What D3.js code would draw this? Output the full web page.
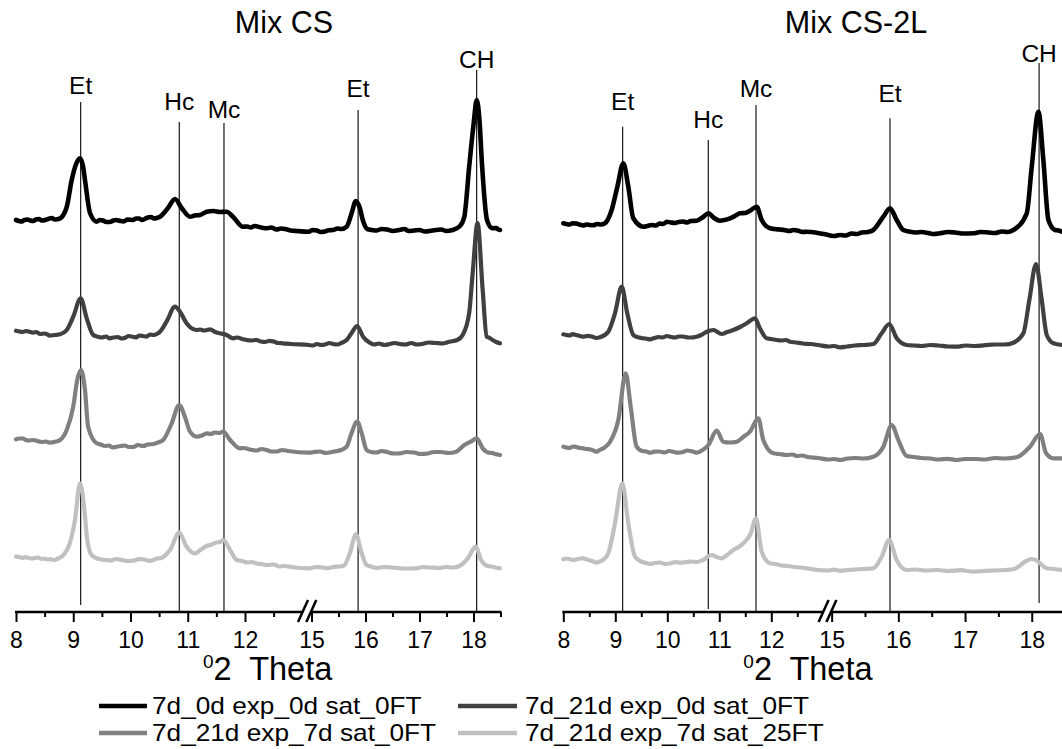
<!DOCTYPE html>
<html>
<head>
<meta charset="utf-8">
<script src="https://cdn.jsdelivr.net/npm/d3@7"></script>
<style>
  html, body { margin: 0; padding: 0; background: #fff; }
  svg { display: block; font-family: "Liberation Sans", Arial, sans-serif; }
  text { white-space: pre; }
</style>
</head>
<body>
<svg id="chart" width="1062" height="749"></svg>
<script>
// ---------------- DATA ----------------
const panelTitles = ["Mix CS", "Mix CS-2L"];
const seriesNames = ["7d_0d exp_0d sat_0FT", "7d_21d exp_0d sat_0FT", "7d_21d exp_7d sat_0FT", "7d_21d exp_7d sat_25FT"];
const majorTicks = [8, 9, 10, 11, 12, 15, 16, 17, 18];
const minorTicks = [8.5, 9.5, 10.5, 11.5, 12.5, 15.5, 16.5, 17.5, 18.5];
const axisTitle = ["0", "2  Theta"];

// Mix CS: [2theta, intensity a.u. incl. stacking offset]
const cs_0d_0sat_0FT = [[8.00,392],[8.05,391],[8.10,390.5],[8.15,392],[8.20,392.5],[8.25,391.5],[8.30,391],[8.35,392.5],[8.40,393],[8.45,391.5],[8.51,392],[8.56,393],[8.62,394],[8.68,392.5],[8.77,393.7],[8.886,405],[8.973,432],[9.05,448],[9.118,453.7],[9.17,446],[9.205,432],[9.293,399],[9.41,390.3],[9.46,392],[9.52,391.5],[9.58,390],[9.64,390],[9.70,391.5],[9.75,392],[9.82,391],[9.88,390.5],[9.95,392.5],[10.04,392],[10.10,393.5],[10.15,393.5],[10.20,392],[10.25,393],[10.30,394.5],[10.36,395],[10.41,393.5],[10.46,394],[10.515,395.3],[10.655,404],[10.777,413],[10.894,404],[11.04,395.3],[11.12,396.5],[11.214,397],[11.33,400.3],[11.45,401],[11.56,400],[11.68,400.3],[11.79,395.3],[11.965,385.3],[12.04,385.5],[12.10,384.5],[12.17,386],[12.25,385],[12.32,384],[12.38,383.7],[12.46,384.5],[12.55,382.5],[12.63,383.5],[12.70,383],[12.80,381.5],[12.91,381],[14.95,380.3],[15.02,382],[15.10,381.5],[15.17,380],[15.25,380.5],[15.32,381.8],[15.40,382],[15.48,383.5],[15.55,383],[15.65,385.3],[15.75,400],[15.82,411],[15.895,404],[15.95,392],[16.04,382.7],[16.12,382],[16.20,381.5],[16.30,383],[16.40,382.5],[16.50,381],[16.63,382],[16.72,383],[16.80,381],[16.90,381.5],[17.00,382],[17.10,380.5],[17.19,381],[17.30,382],[17.40,382.5],[17.50,381],[17.61,382],[17.75,386],[17.83,395.3],[17.92,445.3],[18.00,487],[18.06,512],[18.11,492],[18.16,445.3],[18.25,392],[18.35,383.7],[18.42,384],[18.46,382.5],[18.49,382]];
const cs_21d_0sat_0FT = [[8.00,281.3],[8.06,280.5],[8.12,280],[8.17,281],[8.22,280.5],[8.30,279.3],[8.36,280],[8.42,278],[8.50,278.5],[8.55,277.5],[8.59,276.3],[8.68,277],[8.77,277.7],[8.886,282],[9.00,295.3],[9.13,313.7],[9.235,293.7],[9.35,277],[9.42,275.5],[9.50,274.5],[9.57,275.5],[9.64,273.7],[9.70,274.5],[9.78,275],[9.84,273.5],[9.90,274],[9.97,276],[10.04,275.3],[10.10,274.5],[10.15,276.5],[10.22,276],[10.28,275.3],[10.34,277.5],[10.40,277],[10.46,278],[10.515,280.3],[10.63,290.3],[10.777,305.3],[10.865,300.3],[10.98,288.7],[11.156,282],[11.22,282.5],[11.28,281.5],[11.39,282.7],[11.48,280],[11.56,278.7],[11.68,277],[11.79,273.7],[11.87,274.5],[11.95,273],[12.03,272],[12.10,271.5],[12.20,272],[12.28,270.5],[12.35,270],[12.43,271.2],[12.50,270.5],[12.58,269],[12.66,268.7],[12.80,268],[14.95,267],[15.03,266.5],[15.10,268],[15.18,267],[15.25,267.5],[15.33,269],[15.40,268],[15.48,267.5],[15.55,269],[15.65,272],[15.74,278.7],[15.845,286],[15.955,275.3],[16.08,269.3],[16.16,267.5],[16.25,268.5],[16.35,267],[16.45,268],[16.54,269],[16.63,268],[16.74,267.5],[16.85,269],[16.95,267.5],[17.05,268],[17.17,269.5],[17.30,269],[17.42,268.5],[17.555,270.3],[17.70,272],[17.80,277],[17.92,299],[17.985,339],[18.075,389],[18.17,322],[18.245,275.3],[18.30,274],[18.355,272],[18.42,270],[18.49,268.7]];
const cs_21d_7sat_0FT = [[8.00,172.7],[8.06,173.5],[8.12,173.5],[8.17,172],[8.22,171.5],[8.30,172],[8.37,171],[8.45,170],[8.52,170.5],[8.59,169.3],[8.70,170.5],[8.77,172],[8.886,182],[9.00,205.3],[9.07,232],[9.135,242],[9.205,222],[9.26,185.3],[9.41,168.7],[9.48,167.5],[9.55,166],[9.62,166.5],[9.69,164.5],[9.76,165.3],[9.83,166],[9.90,166.5],[9.97,165],[10.05,165],[10.13,167],[10.22,166],[10.30,167.5],[10.40,168],[10.48,169.5],[10.57,172],[10.72,188.7],[10.85,207],[10.95,195.3],[11.04,180.3],[11.156,175.3],[11.25,176.5],[11.33,178.7],[11.40,178],[11.48,179.5],[11.55,179],[11.62,180.3],[11.74,172],[11.91,163.7],[11.98,164],[12.05,163],[12.13,162],[12.20,161.5],[12.29,163],[12.38,162],[12.47,160.5],[12.55,160.5],[12.65,162],[12.75,161],[14.95,159.3],[15.05,160],[15.15,160.5],[15.27,159],[15.40,160.3],[15.48,161],[15.55,162],[15.65,165.3],[15.74,178.7],[15.845,190.3],[15.93,178.7],[16.02,162],[16.10,160],[16.20,159.5],[16.30,161],[16.40,160],[16.52,158.5],[16.63,158.7],[16.76,160],[16.90,159.5],[17.02,158],[17.15,158.5],[17.27,160],[17.40,160],[17.54,159],[17.68,160.3],[17.83,167],[17.95,170.3],[18.06,173.7],[18.17,163.7],[18.29,159.3],[18.35,159],[18.40,158],[18.45,157.5],[18.49,157]];
const cs_21d_7sat_25FT = [[8.00,55.3],[8.06,55],[8.12,54],[8.16,54.8],[8.20,54.5],[8.25,53.5],[8.30,53.7],[8.38,54.5],[8.45,53],[8.50,53.5],[8.55,52.5],[8.60,53],[8.65,52],[8.74,53.5],[8.83,57],[8.94,68.7],[9.03,92],[9.118,128.7],[9.19,105.3],[9.245,72],[9.32,57],[9.40,54],[9.47,52.7],[9.56,52],[9.65,51.5],[9.75,53],[9.85,52],[9.95,51],[10.05,51.3],[10.15,52.8],[10.25,52.5],[10.32,51.2],[10.40,52],[10.46,53.5],[10.515,53.7],[10.69,62],[10.85,79.3],[10.98,65.3],[11.127,58.7],[11.23,62.5],[11.33,66],[11.42,67.5],[11.50,69.5],[11.56,70],[11.62,72],[11.74,62],[11.855,52],[11.95,51],[12.05,49.5],[12.12,50],[12.20,48.5],[12.29,48],[12.38,47],[12.50,47.5],[12.60,45.5],[12.70,46],[12.80,45],[14.95,43.7],[15.08,45],[15.20,44.5],[15.30,43.8],[15.40,45],[15.50,45.5],[15.59,46],[15.71,58.7],[15.82,77.7],[15.93,58.7],[16.02,47],[16.10,45.5],[16.20,44],[16.35,45],[16.50,44.5],[16.70,43.5],[16.94,43.7],[17.06,45],[17.20,44.5],[17.35,44],[17.50,45],[17.62,44.5],[17.74,46],[17.895,53.7],[18.04,65.3],[18.14,52],[18.26,46],[18.33,45.5],[18.40,44.5],[18.49,43.7]];

// Mix CS-2L
const cs2l_0d_0sat_0FT = [[8.00,388.7],[8.06,388],[8.12,387.5],[8.18,388.8],[8.25,388.5],[8.31,387.5],[8.38,386.5],[8.45,387.5],[8.51,387],[8.58,386.8],[8.65,388],[8.72,387.5],[8.80,388.7],[8.93,402],[9.04,425.3],[9.154,448.7],[9.25,425.3],[9.346,393.7],[9.54,385.3],[9.62,386],[9.70,387],[9.78,386.5],[9.85,388.5],[9.92,388],[9.99,390.3],[10.07,389.5],[10.15,389],[10.22,390],[10.30,390.5],[10.38,389.5],[10.45,391],[10.565,391.3],[10.69,395],[10.79,398.7],[10.90,394],[11.01,391.3],[11.10,392],[11.205,393.7],[11.30,396],[11.40,398.7],[11.50,399],[11.59,401.3],[11.72,405.3],[11.815,392],[11.975,383.7],[12.06,383],[12.15,382.5],[12.25,382],[12.35,381],[12.42,382],[12.50,381.5],[12.60,380],[12.68,380.3],[12.90,379],[14.95,377],[15.04,376],[15.125,377],[15.21,376.5],[15.30,378.5],[15.38,378],[15.45,379.5],[15.54,380],[15.625,382],[15.775,395.3],[15.875,403.7],[15.975,392],[16.074,382],[16.16,380.5],[16.25,379.5],[16.35,380],[16.45,379],[16.53,378],[16.625,378.7],[16.74,380],[16.85,379.5],[16.98,378.5],[17.124,378.7],[17.23,380],[17.35,379.5],[17.45,379],[17.55,380.5],[17.64,380],[17.724,382],[17.925,398.7],[18.00,445.3],[18.10,500.3],[18.174,452],[18.25,392],[18.35,382],[18.40,381.5],[18.455,380.3]];
const cs2l_21d_0sat_0FT = [[8.00,277.7],[8.06,277],[8.12,276.5],[8.18,277.8],[8.25,277],[8.32,276],[8.385,275.3],[8.47,276.2],[8.55,275.5],[8.63,274],[8.706,274.7],[8.865,280.3],[8.994,298.7],[9.123,325.3],[9.23,298.7],[9.346,277],[9.42,275],[9.50,274],[9.58,273.5],[9.667,272.7],[9.75,274],[9.83,275],[9.91,274.5],[9.99,276],[10.07,275],[10.15,274.5],[10.22,275.5],[10.30,275.5],[10.40,274.5],[10.5,274.7],[10.58,275.5],[10.65,277],[10.76,280.3],[10.885,282],[11.046,278],[11.15,280],[11.27,282],[11.40,285],[11.527,288.7],[11.687,293.7],[11.78,283.7],[11.91,273.7],[12.00,273],[12.10,272],[12.20,271.5],[12.28,272],[12.36,270.3],[12.48,269.5],[12.60,268.5],[12.75,268],[12.90,267],[14.95,265.5],[15.04,266],[15.125,264.7],[15.23,265.5],[15.35,266.5],[15.48,267],[15.625,268],[15.75,278.7],[15.864,288],[15.975,273.7],[16.125,267],[16.23,266.5],[16.35,266],[16.48,267],[16.60,266.5],[16.74,265.5],[16.875,265.3],[17.01,266.5],[17.15,266],[17.30,266.8],[17.45,267.5],[17.60,267.5],[17.724,269.3],[17.874,278.7],[17.964,312],[18.064,348],[18.15,312],[18.225,277],[18.325,268.7],[18.455,267]];
const cs2l_21d_7sat_0FT = [[8.00,165.3],[8.06,164.5],[8.12,164],[8.19,165.5],[8.25,165],[8.32,164],[8.385,163.7],[8.45,163],[8.52,162.5],[8.58,161.5],[8.64,160.3],[8.70,162],[8.78,164],[8.90,170.3],[9.058,192],[9.20,238.7],[9.296,205.3],[9.41,165.3],[9.52,161],[9.60,160.5],[9.667,159.3],[9.75,160.3],[9.85,160.5],[9.95,159.5],[10.03,161],[10.115,160.3],[10.20,159.3],[10.30,160],[10.38,161.5],[10.45,161],[10.52,160],[10.565,159.3],[10.68,162],[10.79,167],[10.95,181.3],[11.077,170.3],[11.20,169.5],[11.335,170.3],[11.46,175],[11.59,180.3],[11.75,193.7],[11.846,172],[12.04,158.7],[12.15,158],[12.30,157],[12.40,157.5],[12.50,156],[12.60,156.5],[12.68,155.3],[12.90,154],[14.95,152.5],[15.04,153],[15.125,152],[15.24,153.5],[15.35,154],[15.48,153.5],[15.625,155.3],[15.775,165.3],[15.90,187],[16.0,172],[16.125,156],[16.24,155],[16.35,154],[16.48,153.5],[16.60,152.5],[16.74,153.2],[16.875,152],[17.00,153],[17.15,153],[17.30,152.5],[17.45,154],[17.60,153.5],[17.774,154.7],[17.974,165.3],[18.125,178],[18.215,158.7],[18.325,153.7],[18.455,153.7]];
const cs2l_21d_7sat_25FT = [[8.00,52.7],[8.06,53.5],[8.12,53],[8.18,52],[8.25,52.5],[8.32,53.5],[8.385,53.7],[8.45,52.5],[8.52,51.5],[8.58,50.5],[8.64,49.3],[8.70,50.5],[8.76,52],[8.865,58.7],[8.994,88.7],[9.135,128.7],[9.25,88.7],[9.38,55.3],[9.52,50],[9.60,49],[9.667,48],[9.75,49],[9.85,49.5],[9.95,48.2],[10.05,48.5],[10.15,50],[10.244,49.3],[10.35,49.8],[10.45,50.5],[10.57,50],[10.69,52],[10.854,57],[10.95,55],[11.046,53.7],[11.15,57],[11.27,62],[11.40,66],[11.494,70.3],[11.60,78],[11.706,93.7],[11.815,60.3],[11.975,48.7],[12.08,48],[12.20,46.5],[12.32,46],[12.45,45],[12.56,44.5],[12.68,43.7],[12.90,42],[14.95,41.5],[15.04,42.3],[15.125,41.3],[15.24,42],[15.35,42.5],[15.48,43],[15.625,43.7],[15.75,55.3],[15.864,72],[15.975,52],[16.125,42],[16.26,42.5],[16.40,41.5],[16.58,42],[16.75,41],[16.94,41.8],[17.124,40.3],[17.30,41.2],[17.45,41.5],[17.60,42],[17.724,42.7],[17.925,51.3],[18.00,53],[18.075,51.3],[18.225,43.7],[18.34,43],[18.455,42]];

// Peak markers: label, 2theta, label level / line top / line bottom (intensity units)
const csPeaks = [
  {label:"Et", pos:9.13,  labelAt:518,   top:510,   bottom:7},
  {label:"Hc", pos:10.852, labelAt:502,  top:490,   bottom:1},
  {label:"Mc", pos:11.633, labelAt:493.7, top:489,  bottom:1},
  {label:"Et", pos:15.863, labelAt:515.3, top:502,  bottom:1},
  {label:"CH", pos:18.059, labelAt:543.7, top:542,  bottom:1}
];
const cs2lPeaks = [
  {label:"Et", pos:9.142, labelAt:502,   top:485.3, bottom:1},
  {label:"Hc", pos:10.788, labelAt:483.7, top:472,  bottom:3},
  {label:"Mc", pos:11.706, labelAt:515.3, top:507,  bottom:1},
  {label:"Et", pos:15.875, labelAt:510.3, top:493.7, bottom:1},
  {label:"CH", pos:18.11, labelAt:550.3, top:549,   bottom:9}
];

const panelsData = [
  [cs_0d_0sat_0FT, cs_21d_0sat_0FT, cs_21d_7sat_0FT, cs_21d_7sat_25FT],
  [cs2l_0d_0sat_0FT, cs2l_21d_0sat_0FT, cs2l_21d_7sat_0FT, cs2l_21d_7sat_25FT]
];
const panelsPeaks = [csPeaks, cs2lPeaks];

// ---------------- STYLE / LAYOUT ----------------
const colors = ["#000000", "#404040", "#808080", "#c0c0c0"];
const widths = [4.6, 4.2, 4.2, 4.2];
const FONT = '"Liberation Sans", Arial, sans-serif';
const breakDomain = [8, 12.9, 14.95, 18.5];
const panels = [
  { range: [16, 296.5, 308.8, 500.5], titleX: 284, axisTitleX: 203, breakOff: [6, 2] },
  { range: [563.3, 818.1, 828.3, 1065.1], titleX: 856, axisTitleX: 743.3, breakOff: [5, 2.6] }
];
const y = d3.scaleLinear().domain([0, 600]).range([612, 12]);
const axisY = y(0);

const svg = d3.select("#chart");

panels.forEach((p, pi) => {
  const x = d3.scaleLinear().domain(breakDomain).range(p.range);
  const g = svg.append("g");

  // title
  g.append("text").attr("x", p.titleX).attr("y", 33.3)
    .attr("text-anchor", "middle").attr("font-size", 30.5).attr("fill", "#000")
    .text(panelTitles[pi]);

  // peak reference lines
  const peaks = panelsPeaks[pi];
  g.selectAll(".ref").data(peaks).join("line")
    .attr("x1", d => x(d.pos)).attr("x2", d => x(d.pos))
    .attr("y1", d => y(d.top)).attr("y2", d => y(d.bottom))
    .attr("stroke", "#000").attr("stroke-width", 1.1);

  // traces (bottom first so black is on top)
  const line = d3.line().x(d => x(d[0])).y(d => y(d[1])).curve(d3.curveMonotoneX);
  const data = panelsData[pi];
  for (let s = data.length - 1; s >= 0; s--) {
    g.append("path").datum(data[s]).attr("d", line)
      .attr("fill", "none").attr("stroke", colors[s])
      .attr("stroke-width", widths[s]).attr("stroke-linejoin", "round").attr("stroke-linecap", "round");
  }

  // peak labels
  g.selectAll(".plab").data(peaks).join("text")
    .attr("x", d => x(d.pos)).attr("y", d => y(d.labelAt))
    .attr("text-anchor", "middle").attr("font-size", 24.5).attr("fill", "#000")
    .text(d => d.label);

  // axes (two segments)
  const segs = [[breakDomain[0], breakDomain[1]], [breakDomain[2], breakDomain[3]]];
  segs.forEach((dom) => {
    const sx = d3.scaleLinear().domain(dom).range([x(dom[0]), x(dom[1])]);
    const inSeg = v => v >= dom[0] - 1e-9 && v <= dom[1] + 1e-9;
    const ag = g.append("g").attr("transform", `translate(0,${axisY})`);
    ag.call(d3.axisBottom(sx).tickValues(majorTicks.filter(inSeg)).tickFormat(d3.format("d"))
      .tickSize(10).tickPadding(10).tickSizeOuter(0));
    ag.select(".domain").remove();
    ag.selectAll(".tick line").attr("stroke", "#000").attr("stroke-width", 2);
    ag.selectAll(".tick text").attr("font-size", 23).attr("font-family", FONT).attr("fill", "#000");
    const mg = g.append("g").attr("transform", `translate(0,${axisY})`);
    mg.call(d3.axisBottom(sx).tickValues(minorTicks.filter(inSeg)).tickFormat("").tickSize(5).tickSizeOuter(0));
    mg.select(".domain").remove();
    mg.selectAll(".tick line").attr("stroke", "#000").attr("stroke-width", 2);
  });
  // axis baseline segments with gap at the break
  const b1 = x(breakDomain[1]) + p.breakOff[0];
  const b2 = x(breakDomain[2]) + p.breakOff[1];
  g.append("line").attr("x1", x(breakDomain[0]) - 1).attr("x2", b1).attr("y1", axisY).attr("y2", axisY)
    .attr("stroke", "#000").attr("stroke-width", 2.5);
  g.append("line").attr("x1", b2).attr("x2", x(breakDomain[3]) + 1).attr("y1", axisY).attr("y2", axisY)
    .attr("stroke", "#000").attr("stroke-width", 2.5);
  [b1, b2].forEach(bx => {
    g.append("line").attr("x1", bx - 4.5).attr("y1", axisY + 10).attr("x2", bx + 5.5).attr("y2", axisY - 12)
      .attr("stroke", "#000").attr("stroke-width", 2.5);
  });

  // axis title
  const t = g.append("text").attr("x", p.axisTitleX).attr("y", 680).attr("fill", "#000");
  t.append("tspan").attr("font-size", 19).attr("dy", -12).text(axisTitle[0]);
  t.append("tspan").attr("font-size", 32.5).attr("dy", 12).text(axisTitle[1]);
});

// legend (text slightly wide, as in the reference)
const legendPos = [
  { lx: 99, lw: 48, tx: 152, ly: 706, ty: 714 },
  { lx: 458, lw: 59, tx: 525, ly: 706, ty: 714 },
  { lx: 99, lw: 48, tx: 152, ly: 733, ty: 740.5 },
  { lx: 458, lw: 59, tx: 525, ly: 733, ty: 740.5 }
];
const lg = svg.append("g");
seriesNames.forEach((name, i) => {
  const lp = legendPos[i];
  lg.append("line").attr("x1", lp.lx).attr("x2", lp.lx + lp.lw).attr("y1", lp.ly).attr("y2", lp.ly)
    .attr("stroke", colors[i]).attr("stroke-width", 4.5);
  const tx = lg.append("text").attr("x", lp.tx).attr("y", lp.ty).attr("font-size", 23.2).attr("fill", "#000").text(name);
  const w = tx.node().getComputedTextLength();
  tx.attr("textLength", w * 1.13).attr("lengthAdjust", "spacingAndGlyphs");
});
</script>
</body>
</html>
